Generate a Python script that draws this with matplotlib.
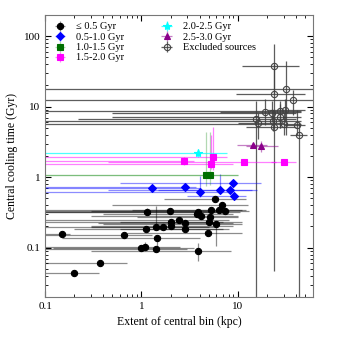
import numpy as np
import matplotlib
matplotlib.use("Agg")
import matplotlib.pyplot as plt
from matplotlib import ticker

plt.rcParams['font.family'] = ['Liberation Serif', 'DejaVu Serif']

# <= 0.5 Gyr
blk_x = [5.82, 6.77, 1.15, 1.98, 3.85, 3.73, 5.25, 6.3, 7.32, 4.1, 5.12, 2.45, 2.82, 2.0, 2.0, 5.05,
         6.0, 1.43, 1.66, 1.12, 2.85, 0.15, 0.656, 4.88, 1.45, 0.98, 1.09, 1.41, 3.85, 0.373, 0.2]
blk_y = [0.491, 0.408, 0.324, 0.327, 0.324, 0.297, 0.338, 0.338, 0.327, 0.278, 0.275, 0.244, 0.224,
         0.228, 0.2, 0.23, 0.217, 0.198, 0.194, 0.186, 0.182, 0.154, 0.149, 0.163, 0.135, 0.0998,
         0.103, 0.0955, 0.0883, 0.0616, 0.044]
blk_xl = [1.7, 0.5, 0.05, 0.3, 0.05, 0.4, 0.05, 0.8, 0.05, 0.3, 0.9, 0.05, 0.35, 0.6, 0.3, 0.05,
          0.4, 0.05, 0.3, 0.2, 0.6, 0.05, 0.05, 0.7, 0.15, 0.12, 0.05, 0.1, 0.3, 0.05, 0.05]
blk_xr = [12, 12.8, 6, 8, 10.4, 9, 11, 12, 13, 10, 10, 8, 9, 7, 9, 11,
          11, 6, 5, 7, 8, 0.18, 1.3, 11, 4, 3.5, 2.5, 3.0, 8.5, 0.7, 0.36]
blk_yl = [0.46, 0.38, 0.29, 0.31, 0.30, 0.28, 0.32, 0.32, 0.31, 0.26, 0.26, 0.23, 0.21,
          0.21, 0.19, 0.21, 0.105, 0.19, 0.18, 0.175, 0.17, 0.145, 0.14, 0.15, 0.095, 0.093,
          0.096, 0.09, 0.064, 0.058, 0.041]
blk_yh = [0.52, 0.44, 0.36, 0.35, 0.35, 0.32, 0.36, 0.37, 0.35, 0.30, 0.29, 0.27, 0.24,
          0.25, 0.21, 0.25, 0.23, 0.39, 0.21, 0.2, 0.2, 0.165, 0.16, 0.18, 0.15, 0.107,
          0.12, 0.1, 0.118, 0.066, 0.047]

# 0.5-1.0 Gyr
blu_x = [1.29, 2.82, 4.07, 6.6, 8.3, 8.9, 9.2]
blu_y = [0.705, 0.728, 0.618, 0.667, 0.667, 0.83, 0.547]
blu_xl = [0.05, 0.05, 0.05, 0.45, 1.5, 0.6, 3.0]
blu_xr = [4.0, 3.7, 8.0, 15.9, 14, 17.3, 12.2]
blu_yl = [0.65, 0.66, 0.52, 0.6, 0.62, 0.76, 0.5]
blu_yh = [0.76, 0.82, 1.05, 1.1, 0.72, 0.92, 0.6]

# 1.0-1.5 Gyr
grn_x = [4.7, 5.1]
grn_y = [1.09, 1.09]
grn_xl = [0.05, 0.05]
grn_xr = [10, 10]
grn_yl = [0.74, 0.78]
grn_yh = [4.3, 4.3]

# 1.5-2.0 Gyr
mag_x = [2.79, 5.55, 5.25, 11.5, 29.9]
mag_y = [1.68, 1.94, 1.56, 1.63, 1.63]
mag_xl = [0.05, 0.05, 0.05, 0.45, 22]
mag_xr = [3.5, 7.8, 9, 25, 40]
mag_yl = [1.5, 1.27, 1.3, 1.5, 1.5]
mag_yh = [1.95, 5.1, 4.0, 1.8, 1.8]

# 2.0-2.5 Gyr
cyn_x = [3.85]
cyn_y = [2.17]
cyn_xl = [0.05]
cyn_xr = [7.7]
cyn_yl = [1.95]
cyn_yh = [2.5]

# 2.5-3.0 Gyr
pur_x = [14.5, 17.5]
pur_y = [2.84, 2.75]
pur_xl = [9.7, 12]
pur_xr = [20, 26]
pur_yl = [2.6, 2.3]
pur_yh = [3.1, 3.3]

# excluded sources
exc_x = [23.5, 31.6, 23.5, 37.0, 19.0, 27.1, 31.1, 22.4, 15.4, 27.1, 23.2, 16.1, 30.3, 40.6, 23.5, 42.8]
exc_y = [38.3, 17.9, 15.0, 12.6, 8.4, 8.7, 9.0, 8.0, 6.6, 7.2, 6.2, 5.8, 5.6, 5.55, 5.1, 4.0]
exc_xl = [11.1, 0.05, 9.6, 0.05, 6.5, 0.05, 20, 0.5, 0.22, 0.5, 0.05, 10, 0.05, 30, 12, 35]
exc_xr = [43, 80, 50, 80, 45, 45, 50, 40, 40, 45, 45, 30, 45, 50, 40, 52]
exc_yl = [15, 4.0, 5.0, 7.5, 5.5, 5.0, 6.0, 6.0, 0.01, 5.0, 4.5, 3.5, 4.0, 4.0, 0.046, 0.01]
exc_yh = [77, 45, 40, 17, 13, 12, 13, 12, 12, 11, 9, 8, 8, 9, 7, 6]

fig = plt.figure(figsize=(3.39, 3.39), dpi=100)
ax = fig.add_axes([0.133, 0.124, 0.79, 0.832])


def group(x, y, xl, xr, yl, yh, marker, color, ecolor, label, ms=4, mfc=None):
    x = np.array(x); y = np.array(y)
    xerr = [x - np.array(xl), np.array(xr) - x]
    yerr = [y - np.array(yl), np.array(yh) - y]
    return ax.errorbar(x, y, xerr=xerr, yerr=yerr, fmt=marker, color=color, ecolor=ecolor,
                       elinewidth=0.9, capsize=0, ms=ms, mfc=mfc if mfc else color,
                       mec=color, mew=0.8, label=label)


group(exc_x, exc_y, exc_xl, exc_xr, exc_yl, exc_yh, 'o', '#444444', (0.25, 0.25, 0.25, 0.85),
      'Excluded sources', ms=4.5, mfc='none')
group(blk_x, blk_y, blk_xl, blk_xr, blk_yl, blk_yh, 'o', 'black', (0, 0, 0, 0.45), '≤ 0.5 Gyr', ms=4.5)
group(blu_x, blu_y, blu_xl, blu_xr, blu_yl, blu_yh, 'D', 'blue', (0, 0, 1, 0.45), '0.5-1.0 Gyr', ms=4)
group(grn_x, grn_y, grn_xl, grn_xr, grn_yl, grn_yh, 's', '#007000', (0, 0.5, 0, 0.3), '1.0-1.5 Gyr', ms=4.5)
group(mag_x, mag_y, mag_xl, mag_xr, mag_yl, mag_yh, 's', 'magenta', (1, 0, 1, 0.5), '1.5-2.0 Gyr', ms=4.5)
group(cyn_x, cyn_y, cyn_xl, cyn_xr, cyn_yl, cyn_yh, '*', 'cyan', (0, 1, 1, 0.7), '2.0-2.5 Gyr', ms=6)
group(pur_x, pur_y, pur_xl, pur_xr, pur_yl, pur_yh, '^', '#8b008b', (0.55, 0, 0.55, 0.5), '2.5-3.0 Gyr', ms=4.5)

ax.set_xscale('log')
ax.set_yscale('log')
ax.set_xlim(0.1, 60)
ax.set_ylim(0.02, 200)
fmt = ticker.FuncFormatter(lambda v, _: f'{v:g}')
ax.xaxis.set_major_formatter(fmt)
ax.yaxis.set_major_formatter(fmt)
ax.tick_params(which='both', direction='in', top=True, right=True, labelsize=8)
ax.tick_params(which='major', length=4)
ax.tick_params(which='minor', length=2)
for s in ax.spines.values():
    s.set_color('#777777')
ax.set_xlabel('Extent of central bin (kpc)', fontsize=8.5)
ax.set_ylabel('Central cooling time (Gyr)', fontsize=8.5)

h, l = ax.get_legend_handles_labels()
order = [1, 2, 3, 4, 5, 6, 0]
ax.legend([h[i] for i in order], [l[i] for i in order], ncol=2, loc='upper left',
          frameon=False, fontsize=7.5, handlelength=1.5, labelspacing=0.1,
          columnspacing=3.3, borderaxespad=0.3)

fig.savefig('out.png', dpi=100)
